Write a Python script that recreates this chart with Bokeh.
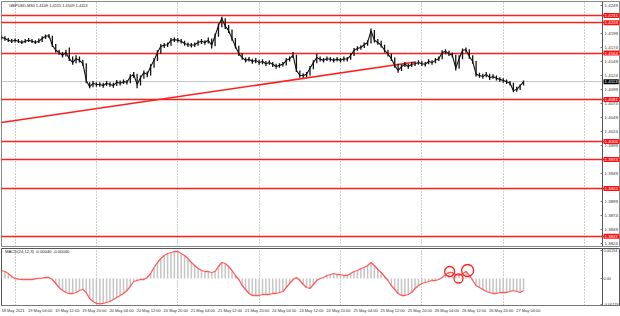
from bokeh.plotting import figure
from bokeh.layouts import column
from bokeh.models import Range1d, FixedTicker, Label, PrintfTickFormatter
from bokeh.embed import file_html
from bokeh.resources import INLINE

# ---------------- data ----------------
hours = list(range(155))  # hourly steps from 18 May 20:00 (trading hours)

close = [
    1.4192, 1.4190, 1.4187, 1.4185, 1.4187, 1.4185, 1.4183, 1.4185, 1.4187, 1.4185,
    1.4183, 1.4185, 1.4190, 1.4194, 1.4195, 1.4178, 1.4169, 1.4165, 1.4160, 1.4165,
    1.4154, 1.4147, 1.4154, 1.4151, 1.4145, 1.4115, 1.4104, 1.4110, 1.4108, 1.4108,
    1.4106, 1.4110, 1.4108, 1.4106, 1.4112, 1.4110, 1.4113, 1.4112, 1.4122, 1.4126,
    1.4108, 1.4120, 1.4129, 1.4126, 1.4140, 1.4151, 1.4165, 1.4176, 1.4178, 1.4179,
    1.4187, 1.4188, 1.4187, 1.4185, 1.4181, 1.4179, 1.4178, 1.4179, 1.4183, 1.4185,
    1.4183, 1.4187, 1.4178, 1.4195, 1.4213, 1.4226, 1.4212, 1.4204, 1.4190, 1.4176,
    1.4163, 1.4156, 1.4151, 1.4153, 1.4149, 1.4151, 1.4147, 1.4149, 1.4145, 1.4147,
    1.4144, 1.4140, 1.4142, 1.4144, 1.4151, 1.4154, 1.4160, 1.4133, 1.4124, 1.4124,
    1.4126, 1.4137, 1.4147, 1.4156, 1.4153, 1.4151, 1.4154, 1.4153, 1.4151, 1.4153,
    1.4151, 1.4154, 1.4153, 1.4160, 1.4169, 1.4172, 1.4174, 1.4179, 1.4183, 1.4204,
    1.4187, 1.4183, 1.4178, 1.4169, 1.4162, 1.4154, 1.4142, 1.4133, 1.4140, 1.4144,
    1.4140, 1.4144, 1.4145, 1.4147, 1.4145, 1.4144, 1.4149, 1.4147, 1.4151, 1.4154,
    1.4165, 1.4167, 1.4163, 1.4160, 1.4137, 1.4154, 1.4169, 1.4170, 1.4158, 1.4149,
    1.4126, 1.4124, 1.4122, 1.4126, 1.4120, 1.4122, 1.4119, 1.4117, 1.4115, 1.4113,
    1.4110, 1.4097, 1.4099, 1.4106, 1.4113,
]

high = [
    1.4196, 1.4194, 1.4191, 1.4189, 1.4190, 1.4189, 1.4187, 1.4189, 1.4191, 1.4189,
    1.4187, 1.4190, 1.4194, 1.4197, 1.4198, 1.4195, 1.4180, 1.4170, 1.4166, 1.4170,
    1.4174, 1.4158, 1.4160, 1.4158, 1.4152, 1.4146, 1.4112, 1.4114, 1.4112, 1.4112,
    1.4111, 1.4114, 1.4112, 1.4111, 1.4116, 1.4115, 1.4117, 1.4116, 1.4126, 1.4130,
    1.4127, 1.4124, 1.4133, 1.4131, 1.4144, 1.4155, 1.4169, 1.4180, 1.4182, 1.4183,
    1.4191, 1.4192, 1.4191, 1.4189, 1.4186, 1.4183, 1.4182, 1.4183, 1.4187, 1.4189,
    1.4187, 1.4192, 1.4190, 1.4199, 1.4217, 1.4229, 1.4226, 1.4214, 1.4206, 1.4191,
    1.4177, 1.4164, 1.4156, 1.4157, 1.4154, 1.4155, 1.4152, 1.4153, 1.4150, 1.4151,
    1.4148, 1.4145, 1.4146, 1.4148, 1.4155, 1.4158, 1.4166, 1.4161, 1.4133, 1.4128,
    1.4130, 1.4141, 1.4151, 1.4163, 1.4158, 1.4155, 1.4158, 1.4157, 1.4155, 1.4157,
    1.4155, 1.4158, 1.4157, 1.4164, 1.4173, 1.4176, 1.4178, 1.4183, 1.4187, 1.4208,
    1.4205, 1.4189, 1.4186, 1.4179, 1.4170, 1.4163, 1.4156, 1.4145, 1.4144, 1.4148,
    1.4145, 1.4148, 1.4149, 1.4151, 1.4150, 1.4148, 1.4153, 1.4151, 1.4155, 1.4158,
    1.4169, 1.4171, 1.4168, 1.4165, 1.4161, 1.4160, 1.4172, 1.4174, 1.4171, 1.4160,
    1.4150, 1.4129, 1.4127, 1.4130, 1.4127, 1.4126, 1.4124, 1.4121, 1.4119, 1.4117,
    1.4114, 1.4111, 1.4104, 1.4108, 1.4115,
]

low = [
    1.4188, 1.4186, 1.4184, 1.4182, 1.4183, 1.4182, 1.4180, 1.4182, 1.4184, 1.4182,
    1.4180, 1.4182, 1.4184, 1.4189, 1.4191, 1.4175, 1.4165, 1.4161, 1.4156, 1.4158,
    1.4150, 1.4143, 1.4146, 1.4147, 1.4141, 1.4110, 1.4101, 1.4103, 1.4104, 1.4104,
    1.4102, 1.4105, 1.4104, 1.4102, 1.4105, 1.4106, 1.4109, 1.4108, 1.4110, 1.4120,
    1.4101, 1.4106, 1.4118, 1.4121, 1.4124, 1.4138, 1.4150, 1.4163, 1.4173, 1.4175,
    1.4177, 1.4184, 1.4183, 1.4181, 1.4177, 1.4175, 1.4174, 1.4175, 1.4177, 1.4180,
    1.4179, 1.4181, 1.4172, 1.4176, 1.4193, 1.4210, 1.4207, 1.4200, 1.4186, 1.4172,
    1.4159, 1.4152, 1.4147, 1.4149, 1.4145, 1.4146, 1.4143, 1.4144, 1.4141, 1.4143,
    1.4139, 1.4136, 1.4138, 1.4140, 1.4142, 1.4149, 1.4155, 1.4130, 1.4120, 1.4120,
    1.4121, 1.4124, 1.4135, 1.4146, 1.4149, 1.4147, 1.4150, 1.4149, 1.4147, 1.4149,
    1.4147, 1.4149, 1.4149, 1.4152, 1.4159, 1.4168, 1.4170, 1.4173, 1.4177, 1.4181,
    1.4183, 1.4179, 1.4174, 1.4165, 1.4158, 1.4150, 1.4138, 1.4129, 1.4132, 1.4139,
    1.4136, 1.4139, 1.4141, 1.4143, 1.4141, 1.4140, 1.4144, 1.4143, 1.4146, 1.4150,
    1.4153, 1.4162, 1.4159, 1.4156, 1.4133, 1.4136, 1.4153, 1.4165, 1.4154, 1.4145,
    1.4122, 1.4120, 1.4118, 1.4121, 1.4116, 1.4118, 1.4115, 1.4113, 1.4111, 1.4109,
    1.4106, 1.4094, 1.4095, 1.4098, 1.4106,
]

macd = [
    0.00056, 0.00049, 0.00035, 0.00014, 0.00000, -0.00004, -0.00007, -0.00007, -0.00007, -0.00007,
    -0.00002, 0.00001, 0.00002, 0.00007, 0.00007, -0.00007, -0.00035, -0.00063, -0.00084, -0.00098,
    -0.00105, -0.00105, -0.00098, -0.00084, -0.00077, -0.00098, -0.00140, -0.00161, -0.00175, -0.00177,
    -0.00175, -0.00168, -0.00161, -0.00147, -0.00133, -0.00119, -0.00105, -0.00084, -0.00056, -0.00021,
    -0.00014, -0.00007, -0.00007, 0.00007, 0.00035, 0.00077, 0.00112, 0.00140, 0.00161, 0.00175,
    0.00182, 0.00189, 0.00189, 0.00175, 0.00161, 0.00140, 0.00112, 0.00091, 0.00070, 0.00056,
    0.00049, 0.00049, 0.00042, 0.00049, 0.00084, 0.00112, 0.00105, 0.00084, 0.00056, 0.00021,
    -0.00007, -0.00049, -0.00077, -0.00105, -0.00119, -0.00119, -0.00119, -0.00112, -0.00112, -0.00112,
    -0.00105, -0.00105, -0.00098, -0.00091, -0.00063, -0.00035, -0.00007, 0.00007, -0.00014, -0.00042,
    -0.00063, -0.00070, -0.00042, -0.00014, 0.00000, 0.00007, 0.00021, 0.00028, 0.00035, 0.00028,
    0.00028, 0.00021, 0.00021, 0.00035, 0.00049, 0.00056, 0.00070, 0.00077, 0.00091, 0.00112,
    0.00091, 0.00063, 0.00042, 0.00014, -0.00014, -0.00049, -0.00077, -0.00105, -0.00119, -0.00119,
    -0.00112, -0.00098, -0.00070, -0.00049, -0.00035, -0.00028, -0.00021, -0.00014, -0.00014, -0.00007,
    0.00007, 0.00028, 0.00042, 0.00042, 0.00028, 0.00021, 0.00035, 0.00049, 0.00021, -0.00014,
    -0.00049, -0.00063, -0.00077, -0.00091, -0.00098, -0.00105, -0.00105, -0.00098, -0.00098, -0.00098,
    -0.00091, -0.00084, -0.00091, -0.00098, -0.00084,
]

levels = [1.4231, 1.4218, 1.4164, 1.4081, 1.4006, 1.3974, 1.3922, 1.3837]
level_labels = ["1.4231", "1.4218", "1.4164", "1.4081", "1.4006", "1.3974", "1.3922", "1.3837"]

trend_h = [0, 122]
trend_p = [1.4040, 1.4148]

bid_price = [1.4113]
bid_label = "1.4113"

price_ticks = [1.4249, 1.4199, 1.4174, 1.4149, 1.4124, 1.4099, 1.4074, 1.4049,
               1.4024, 1.3999, 1.3949, 1.3899, 1.3874, 1.3849, 1.3824]
macd_ticks = [0.00194, 0.0, -0.00179]
macd_tick_labels = ["0.00194", "0.00", "-0.00179"]

time_h = [0, 8, 16, 24, 32, 40, 48, 56, 64, 72, 80, 88, 96, 104, 112, 120, 128, 136, 144, 152]
time_labels = ["18 May 2021", "19 May 04:00", "19 May 12:00", "19 May 20:00", "20 May 04:00",
               "20 May 12:00", "20 May 20:00", "21 May 04:00", "21 May 12:00", "21 May 20:00",
               "24 May 04:00", "24 May 12:00", "24 May 20:00", "25 May 04:00", "25 May 12:00",
               "25 May 20:00", "26 May 04:00", "26 May 12:00", "26 May 20:00", "27 May 04:00"]
day_h = [4, 28, 52, 76, 100, 124, 148, 172]

circle_h = [132.2, 134.8, 137.5]
circle_m = [0.00049, 0.0, 0.00056]

title_text = "GBPUSD,M30  1.4109 1.4115 1.4109 1.4113"
macd_title = "MACD(24,12,3) -0.00040 -0.00040"

# ---------------- styling ----------------
FONT = "Liberation Sans"
RED = "#ff1f1f"
GRID = "#9a9a9a"
OUT = "#8a8a8a"
AXIS_H = 177.3      # where the price scale sits (just right of the chart body)
LBL_X = 177.6
LABEL_SHIFT = 3.4   # MT4 writes time labels to the right of their tick

xr = Range1d(0, 182.6)


def style_value_axis(ax, size="4.4px", standoff=2):
    ax.fixed_location = AXIS_H
    ax.major_label_text_font = FONT
    ax.major_label_text_font_size = size
    ax.major_label_text_color = "#333333"
    ax.major_tick_in = 2
    ax.major_tick_out = 0
    ax.minor_tick_line_color = None
    ax.major_label_standoff = standoff
    ax.axis_line_color = "#555555"
    ax.major_tick_line_color = "#777777"


p = figure(width=620, height=247, x_range=xr, y_range=Range1d(1.38186, 1.42561),
           x_axis_location=None, y_axis_location="right", output_backend="svg",
           toolbar_location=None, min_border_left=1, min_border_top=1,
           min_border_bottom=1, min_border_right=0, background_fill_color="white")
p.outline_line_color = OUT
p.xgrid.ticker = FixedTicker(ticks=day_h)
p.xgrid.grid_line_color = GRID
p.xgrid.grid_line_dash = "1 2"
p.ygrid.visible = False
ya = p.yaxis[0]
ya.ticker = FixedTicker(ticks=price_ticks)
ya.formatter = PrintfTickFormatter(format="%.4f")
style_value_axis(ya)

p.hspan(y=bid_price, line_color="#c8c8c8", line_width=1)
p.hspan(y=levels, line_color=RED, line_width=1.6)
p.line(trend_h, trend_p, line_color=RED, line_width=1.6)
p.segment(x0=hours, y0=low, x1=hours, y1=high, line_color="#111111", line_width=1.3)
p.line(hours, close, line_color="#111111", line_width=1.1)

p.add_layout(Label(x=2.2, y=1.4249, text=title_text, text_font=FONT,
                   text_font_size="4px", text_baseline="middle", text_color="#222222"))
for lv, lt in zip(levels, level_labels):
    p.add_layout(Label(x=LBL_X, y=lv, text=lt, text_font=FONT, text_font_size="4.4px",
                       text_baseline="middle", text_color="white",
                       background_fill_color="#ff1010", padding=1))
p.add_layout(Label(x=LBL_X, y=bid_price[0], text=bid_label, text_font=FONT, text_font_size="4.4px",
                   text_baseline="middle", text_color="white",
                   background_fill_color="#000000", padding=1))

# ---------------- MACD panel ----------------
q = figure(width=620, height=69, x_range=xr, y_range=Range1d(-0.00189, 0.0021),
           y_axis_location="right", output_backend="svg", toolbar_location=None,
           min_border_left=1, min_border_top=1, min_border_bottom=11, min_border_right=0,
           background_fill_color="white")
q.outline_line_color = "#555555"
q.xgrid.ticker = FixedTicker(ticks=day_h)
q.xgrid.grid_line_color = GRID
q.xgrid.grid_line_dash = "1 2"
q.ygrid.visible = False

qa = q.yaxis[0]
qa.ticker = FixedTicker(ticks=macd_ticks)
qa.major_label_overrides = {t: s for t, s in zip(macd_ticks, macd_tick_labels)}
style_value_axis(qa, size="3.8px", standoff=1)

label_pos = [h + LABEL_SHIFT for h in time_h]
xa = q.xaxis[0]
xa.ticker = FixedTicker(ticks=label_pos)
xa.major_label_overrides = {t: s for t, s in zip(label_pos, time_labels)}
xa.major_label_text_font = FONT
xa.major_label_text_font_size = "4px"
xa.major_label_text_color = "#333333"
xa.major_tick_in = 0
xa.major_tick_out = 0
xa.minor_tick_line_color = None
xa.major_label_standoff = 2
xa.axis_line_color = "#777777"

q.vbar(x=hours, top=macd, bottom=0, width=0.45, fill_color="#c6c6c6", line_color=None)
q.line(hours, macd, line_color="#ff5a5a", line_width=1.3)
q.scatter(circle_h, circle_m, size=[10, 9, 12], fill_color=None, line_color=RED, line_width=1.3)

q.add_layout(Label(x=1.0, y=0.00189, text=macd_title, text_font=FONT, text_font_size="4.2px",
                   text_baseline="middle", text_color="#222222"))

layout = column(p, q, spacing=0)
open("out.html", "w").write(file_html(layout, INLINE))
